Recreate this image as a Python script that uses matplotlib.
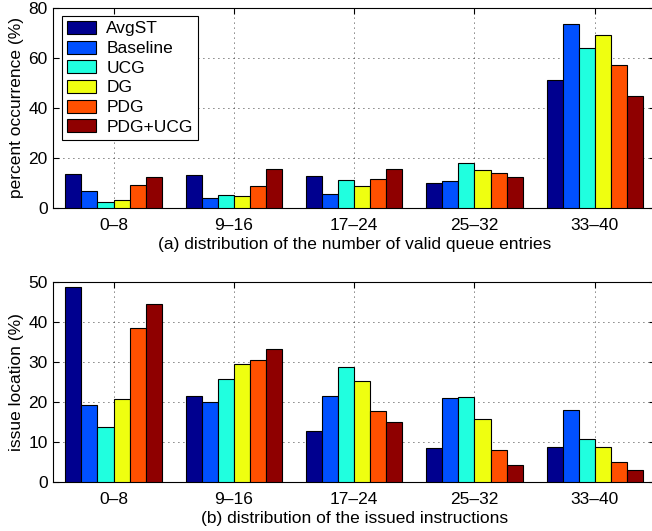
import numpy as np
import matplotlib
matplotlib.use('Agg')
import matplotlib.pyplot as plt

### Data
groups = ['0\u20138', '9\u201316', '17\u201324', '25\u201332', '33\u201340']
series = ['AvgST', 'Baseline', 'UCG', 'DG', 'PDG', 'PDG+UCG']
colors = ['#00008f', '#0050ff', '#20ffdf', '#efff10', '#ff5000', '#8f0000']

# (a) valid queue entries, percent occurrence
queue_avgst = [13.7, 13.2, 12.9, 10.0, 51.2]
queue_base = [6.7, 3.9, 5.7, 10.7, 73.6]
queue_ucg = [2.3, 5.1, 11.1, 18.0, 64.0]
queue_dg = [3.1, 4.7, 8.7, 15.1, 69.2]
queue_pdg = [9.1, 8.7, 11.6, 13.9, 57.2]
queue_pdgucg = [12.4, 15.5, 15.6, 12.3, 44.7]

# (b) issued instructions, issue location
issue_avgst = [48.7, 21.5, 12.8, 8.4, 8.7]
issue_base = [19.3, 20.1, 21.6, 20.9, 18.1]
issue_ucg = [13.7, 25.7, 28.7, 21.2, 10.8]
issue_dg = [20.7, 29.4, 25.3, 15.7, 8.8]
issue_pdg = [38.6, 30.4, 17.8, 8.0, 5.1]
issue_pdgucg = [44.5, 33.2, 14.9, 4.3, 3.0]

queue_data = [queue_avgst, queue_base, queue_ucg, queue_dg, queue_pdg, queue_pdgucg]
issue_data = [issue_avgst, issue_base, issue_ucg, issue_dg, issue_pdg, issue_pdgucg]

plt.rcParams['font.family'] = ['Liberation Sans', 'DejaVu Sans']
plt.rcParams['font.size'] = 12.5

fig = plt.figure(figsize=(6.52, 5.31), dpi=100)
ax1 = fig.add_axes([0.0818, 0.6083, 0.9228, 0.3767])
ax2 = fig.add_axes([0.0818, 0.0923, 0.9228, 0.3767])

x = np.arange(1, len(groups) + 1)
bw = 0.8 / len(series)


def draw_panel(ax, data, ymax, ystep, ylabel, xlabel):
    for i, (vals, col, name) in enumerate(zip(data, colors, series)):
        off = (i - (len(series) - 1) / 2) * bw
        ax.bar(x + off, vals, width=bw, color=col, edgecolor='black',
               linewidth=0.8, label=name, zorder=3)
    ax.set_xlim(0.5, 5.5)
    ax.set_ylim(0, ymax)
    ax.set_yticks(np.arange(0, ymax + 1, ystep))
    ax.set_xticks(x)
    ax.set_xticklabels(groups)
    ax.grid(True, linestyle=(0, (1, 5)), color='black', linewidth=0.6, zorder=0)
    ax.tick_params(direction='in', top=True, right=True, length=4, width=0.8,
                   labelsize=12.5, pad=4)
    ax.tick_params(axis='x', pad=7)
    for sp in ax.spines.values():
        sp.set_linewidth(0.8)
    ax.set_ylabel(ylabel, labelpad=3)
    ax.set_xlabel(xlabel, labelpad=3)


draw_panel(ax1, queue_data, 80, 20, 'percent occurrence (%)',
           '(a) distribution of the number of valid queue entries')
draw_panel(ax2, issue_data, 50, 10, 'issue location (%)',
           '(b) distribution of the issued instructions')

leg = ax1.legend(loc='upper left', bbox_to_anchor=(0.0145, 0.9615), fancybox=False,
                 edgecolor='black', framealpha=1, handlelength=1.67, handleheight=0.77,
                 labelspacing=0.24, borderpad=0.3, borderaxespad=0,
                 handletextpad=0.57)
leg.get_frame().set_linewidth(0.8)

plt.savefig('out.png', dpi=100)
plt.close(fig)
